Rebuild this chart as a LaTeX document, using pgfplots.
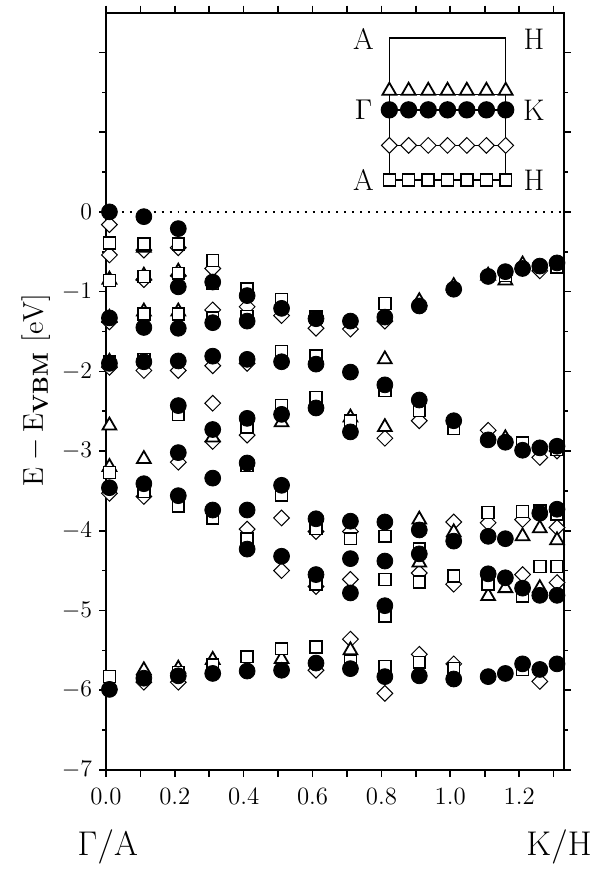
\documentclass[border=0pt]{standalone}
\usepackage{pgfplots}
\pgfplotsset{compat=1.18}
\begin{document}
\begin{tikzpicture}
\begin{axis}[
 scale only axis, width=230.5pt, height=381.2pt,
 xmin=0, xmax=1.33, ymin=-7, ymax=2.5,
 axis line style={line width=1pt},
 tick align=outside,
 xtick={0,0.1,0.2,0.3,0.4,0.5,0.6,0.7,0.8,0.9,1.0,1.1,1.2,1.3},
 xticklabels={0.0,,0.2,,0.4,,0.6,,0.8,,1.0,,1.2,},
 ytick={-7,-6,-5,-4,-3,-2,-1,0,1,2},
 yticklabels={$-7$,$-6$,$-5$,$-4$,$-3$,$-2$,$-1$,$0$,,},
 minor ytick={-6.5,-5.5,-4.5,-3.5,-2.5,-1.5,-0.5,0.5,1.5},
 major tick length=3.5pt, minor tick length=2pt,
 every tick/.style={line width=0.8pt, black},
 ticklabel style={font=\fontsize{12.5}{14}\selectfont},
 xticklabel style={yshift=-2pt},
 clip=false,
]
\coordinate (bl) at (rel axis cs:0,0);
\coordinate (tr) at (rel axis cs:1,1);
% zero line
\addplot[black, line width=1pt, dash pattern=on 1pt off 3pt] coordinates {(0,0)(1.33,0)};

% diamonds
\addplot[only marks, mark=square*, mark size=2.8pt, mark options={rotate=45, fill=white, draw=black, line width=0.5pt}] coordinates {
(0.01,-0.16)(0.01,-0.54)(0.01,-1.38)(0.01,-1.95)(0.01,-3.53)
(0.11,-0.48)(0.11,-0.85)(0.11,-1.99)(0.11,-3.57)(0.11,-5.90)
(0.21,-0.45)(0.21,-0.80)(0.21,-1.99)(0.21,-3.14)(0.21,-5.90)
(0.31,-0.71)(0.31,-1.23)(0.31,-1.93)(0.31,-2.40)(0.31,-2.88)
(0.41,-1.19)(0.41,-1.90)(0.41,-2.80)(0.41,-3.98)
(0.51,-1.30)(0.51,-3.84)(0.51,-4.50)
(0.61,-1.46)(0.61,-4.01)(0.61,-4.70)(0.61,-5.75)
(0.71,-1.47)(0.71,-4.01)(0.71,-4.61)(0.71,-5.36)
(0.81,-1.37)(0.81,-2.84)(0.81,-6.04)
(0.91,-2.62)(0.91,-4.53)(0.91,-5.55)
(1.01,-3.89)(1.01,-4.67)(1.01,-5.67)
(1.11,-2.74)(1.11,-3.90)
(1.21,-3.86)(1.21,-4.55)
(1.26,-0.74)(1.26,-3.08)(1.26,-5.89)
(1.31,-3.00)(1.31,-3.96)(1.31,-4.65)
};
% triangles
\addplot[only marks, mark=triangle*, mark size=4pt, mark options={fill=white, draw=black, line width=0.9pt}] coordinates {
(0.01,-0.85)(0.01,-1.33)(0.01,-1.88)(0.01,-2.68)(0.01,-3.20)
(0.11,-0.45)(0.11,-0.80)(0.11,-1.25)(0.11,-3.10)(0.11,-5.75)
(0.21,-0.75)(0.21,-1.25)(0.21,-5.73)
(0.31,-2.83)(0.31,-5.62)
(0.51,-2.64)(0.51,-5.61)
(0.71,-2.58)(0.71,-5.50)
(0.81,-1.85)(0.81,-2.70)
(0.91,-1.12)(0.91,-3.86)(0.91,-4.40)
(1.01,-0.93)(1.01,-4.02)
(1.11,-0.80)(1.11,-4.82)
(1.16,-0.86)(1.16,-2.84)(1.16,-4.72)
(1.21,-0.66)(1.21,-4.07)
(1.26,-3.97)(1.26,-4.72)
(1.31,-4.12)
};
% squares
\addplot[only marks, mark=square*, mark size=3pt, mark options={fill=white, draw=black, line width=0.8pt}] coordinates {
(0.01,-0.39)(0.01,-0.86)(0.01,-1.88)(0.01,-3.27)(0.01,-5.83)
(0.11,-0.40)(0.11,-0.81)(0.11,-1.28)(0.11,-1.85)(0.11,-3.51)
(0.21,-0.40)(0.21,-0.77)(0.21,-1.28)(0.21,-2.54)(0.21,-3.69)(0.21,-5.78)
(0.31,-0.61)(0.31,-0.90)(0.31,-1.33)(0.31,-3.84)(0.31,-5.68)
(0.41,-0.97)(0.41,-1.31)(0.41,-2.70)(0.41,-3.18)(0.41,-4.10)(0.41,-5.58)
(0.51,-1.10)(0.51,-1.75)(0.51,-2.43)(0.51,-3.55)(0.51,-5.48)
(0.61,-1.32)(0.61,-1.81)(0.61,-2.33)(0.61,-3.97)(0.61,-4.67)(0.61,-5.46)
(0.71,-2.62)(0.71,-4.10)(0.71,-5.64)
(0.81,-1.15)(0.81,-2.24)(0.81,-4.07)(0.81,-4.61)(0.81,-5.07)(0.81,-5.70)
(0.91,-2.49)(0.91,-4.23)(0.91,-4.64)(0.91,-5.65)
(1.01,-2.72)(1.01,-4.57)(1.01,-5.73)
(1.11,-3.77)(1.11,-4.67)
(1.16,-0.80)
(1.21,-2.90)(1.21,-3.76)(1.21,-4.82)(1.21,-5.74)
(1.26,-3.75)(1.26,-4.45)
(1.31,-0.69)(1.31,-2.98)(1.31,-3.79)(1.31,-4.45)
};
% circles
\addplot[only marks, mark=*, mark size=4pt, mark options={fill=black, draw=black}] coordinates {
(0.01,0.00)(0.01,-1.33)(0.01,-1.90)(0.01,-3.46)(0.01,-5.99)
(0.11,-0.06)(0.11,-1.45)(0.11,-1.88)(0.11,-3.41)(0.11,-5.85)
(0.21,-0.21)(0.21,-0.94)(0.21,-1.46)(0.21,-1.87)(0.21,-2.43)(0.21,-3.02)(0.21,-3.56)(0.21,-5.82)
(0.31,-0.88)(0.31,-1.39)(0.31,-1.81)(0.31,-2.73)(0.31,-3.34)(0.31,-3.74)(0.31,-5.79)
(0.41,-1.05)(0.41,-1.37)(0.41,-1.85)(0.41,-2.59)(0.41,-3.15)(0.41,-3.74)(0.41,-4.23)(0.41,-5.76)
(0.51,-1.21)(0.51,-1.88)(0.51,-2.54)(0.51,-3.43)(0.51,-4.32)(0.51,-5.75)
(0.61,-1.34)(0.61,-1.91)(0.61,-2.46)(0.61,-3.85)(0.61,-4.55)(0.61,-5.66)
(0.71,-1.37)(0.71,-2.01)(0.71,-2.76)(0.71,-3.88)(0.71,-4.35)(0.71,-4.78)(0.71,-5.73)
(0.81,-1.32)(0.81,-2.17)(0.81,-3.89)(0.81,-4.38)(0.81,-4.94)(0.81,-5.83)
(0.91,-1.18)(0.91,-2.36)(0.91,-3.99)(0.91,-4.29)(0.91,-5.82)
(1.01,-0.97)(1.01,-2.62)(1.01,-4.13)(1.01,-5.86)
(1.11,-0.81)(1.11,-2.86)(1.11,-4.07)(1.11,-4.54)(1.11,-5.83)
(1.16,-0.75)(1.16,-2.89)(1.16,-4.10)(1.16,-4.59)(1.16,-5.79)
(1.21,-0.71)(1.21,-2.99)(1.21,-4.72)(1.21,-5.67)
(1.26,-0.68)(1.26,-2.96)(1.26,-3.78)(1.26,-4.81)(1.26,-5.74)
(1.31,-0.64)(1.31,-2.94)(1.31,-3.73)(1.31,-4.81)(1.31,-5.67)
};

% inset
\addplot[black, line width=0.7pt] coordinates {(0.823,0.40)(0.823,2.18)(1.161,2.18)(1.161,0.40)};
\addplot[black, line width=0.7pt] coordinates {(0.823,1.47)(1.161,1.47)};
\addplot[only marks, mark=triangle*, mark size=4pt, mark options={fill=white, draw=black, line width=0.9pt}] coordinates {
(0.823,1.52)(0.879,1.52)(0.936,1.52)(0.992,1.52)(1.048,1.52)(1.105,1.52)(1.161,1.52)};
\addplot[black, line width=0.7pt, mark=*, mark size=4pt, mark options={fill=black}] coordinates {
(0.823,1.28)(0.879,1.28)(0.936,1.28)(0.992,1.28)(1.048,1.28)(1.105,1.28)(1.161,1.28)};
\addplot[black, line width=0.5pt, mark=square*, mark size=2.8pt, mark options={rotate=45, fill=white, draw=black, line width=0.5pt}] coordinates {
(0.823,0.834)(0.879,0.834)(0.936,0.834)(0.992,0.834)(1.048,0.834)(1.105,0.834)(1.161,0.834)};
\addplot[black, line width=0.7pt, mark=square*, mark size=3pt, mark options={fill=white, draw=black, line width=0.8pt}] coordinates {
(0.823,0.40)(0.879,0.40)(0.936,0.40)(0.992,0.40)(1.048,0.40)(1.105,0.40)(1.161,0.40)};

\node[font=\fontsize{15}{17}\selectfont] at (axis cs:0.748,2.17) {A};
\node[font=\fontsize{15}{17}\selectfont] at (axis cs:1.243,2.17) {H};
\node[font=\fontsize{15}{17}\selectfont] at (axis cs:0.748,1.28) {$\Gamma$};
\node[font=\fontsize{15}{17}\selectfont] at (axis cs:1.243,1.28) {K};
\node[font=\fontsize{15}{17}\selectfont] at (axis cs:0.748,0.40) {A};
\node[font=\fontsize{15}{17}\selectfont] at (axis cs:1.243,0.40) {H};

\node[font=\fontsize{17}{19}\selectfont] at (axis cs:0.005,-7.97) {$\Gamma/\mathrm{A}$};
\node[font=\fontsize{17}{19}\selectfont] at (axis cs:1.316,-7.97) {$\mathrm{K}/\mathrm{H}$};
\node[rotate=90, font=\fontsize{15}{17}\selectfont] at (axis cs:-0.204,-2.23) {$\mathrm{E-E_{\mathbf{VBM}}}\ [\mathrm{eV}]$};
\end{axis}
\path ([shift={(-53.35pt,-48pt)}]bl) rectangle ([shift={(21.65pt,6.35pt)}]tr);
\end{tikzpicture}
\end{document}
